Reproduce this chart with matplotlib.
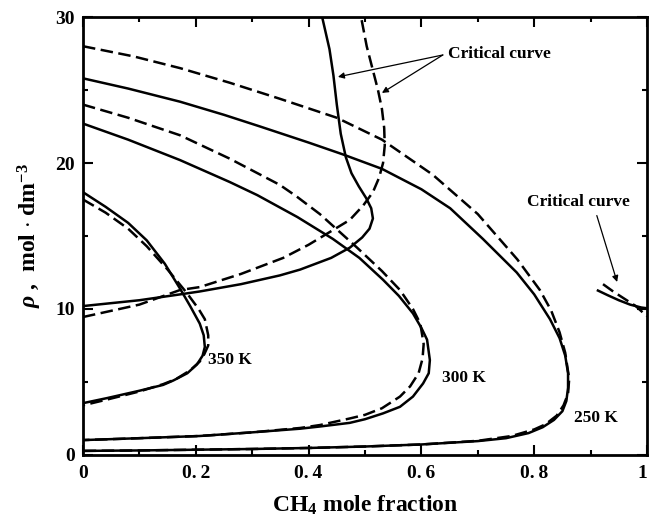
import matplotlib
matplotlib.use('Agg')
import matplotlib.pyplot as plt

plt.rcParams['font.family'] = ['Liberation Serif', 'DejaVu Serif']
plt.rcParams['font.weight'] = 'bold'
plt.rcParams['mathtext.fontset'] = 'custom'
plt.rcParams['mathtext.rm'] = 'Liberation Serif:bold'
plt.rcParams['mathtext.it'] = 'Liberation Serif:italic:bold'

# coexistence loops, ordered from the liquid branch (x=0) round the nose
# and back along the vapour branch; solid = model A, dashed = model B
T250_X = [0, 0.08, 0.172, 0.25, 0.314, 0.40, 0.46, 0.53, 0.60, 0.651, 0.709,
          0.769, 0.80, 0.828, 0.845, 0.855, 0.860, 0.860, 0.857, 0.85, 0.835,
          0.815, 0.79, 0.75, 0.70, 0.60, 0.50, 0.40, 0.30, 0.20, 0.10, 0]
T250_Y = [25.8, 25.1, 24.2, 23.3, 22.5, 21.4, 20.6, 19.6, 18.2, 16.9, 14.8,
          12.5, 11.0, 9.3, 8.0, 6.8, 5.6, 4.6, 3.7, 3.0, 2.4,
          1.9, 1.5, 1.15, 0.95, 0.72, 0.58, 0.48, 0.41, 0.36, 0.31, 0.28]
T250D_X = [0, 0.09, 0.172, 0.26, 0.349, 0.45, 0.53, 0.62, 0.70, 0.77, 0.81,
           0.83, 0.845, 0.855, 0.862, 0.860, 0.852, 0.84, 0.82, 0.80, 0.76,
           0.70, 0.60, 0.50, 0.40, 0.30, 0.20, 0.10, 0]
T250D_Y = [28.0, 27.3, 26.5, 25.5, 24.4, 23.1, 21.6, 19.2, 16.5, 13.4, 11.3,
           9.9, 8.4, 7.0, 5.2, 4.2, 3.4, 2.7, 2.1, 1.75, 1.3,
           0.97, 0.72, 0.58, 0.48, 0.41, 0.36, 0.31, 0.28]

T300_X = [0, 0.08, 0.172, 0.26, 0.309, 0.38, 0.443, 0.49, 0.532, 0.56, 0.585,
          0.60, 0.61, 0.615, 0.613, 0.603, 0.585, 0.562, 0.532, 0.50, 0.473,
          0.42, 0.385, 0.30, 0.207, 0.10, 0]
T300_Y = [22.7, 21.6, 20.2, 18.7, 17.8, 16.3, 14.8, 13.5, 12.0, 10.9, 9.7,
          8.7, 7.9, 6.5, 5.6, 4.9, 4.0, 3.3, 2.85, 2.45, 2.2,
          1.95, 1.8, 1.55, 1.3, 1.15, 1.02]
T300D_X = [0, 0.08, 0.172, 0.26, 0.349, 0.379, 0.42, 0.443, 0.486, 0.53,
           0.562, 0.585, 0.598, 0.604, 0.602, 0.595, 0.58, 0.562, 0.53, 0.50,
           0.473, 0.42, 0.385, 0.30, 0.207, 0.10, 0]
T300D_Y = [24.0, 23.1, 21.9, 20.3, 18.5, 17.7, 16.5, 15.7, 14.2, 12.6,
           11.3, 10.0, 9.0, 7.6, 6.6, 5.6, 4.7, 4.0, 3.2, 2.75,
           2.5, 2.05, 1.85, 1.55, 1.3, 1.15, 1.02]

T350_X = [0, 0.04, 0.08, 0.113, 0.145, 0.172, 0.19, 0.207, 0.214, 0.216,
          0.212, 0.202, 0.185, 0.16, 0.142, 0.10, 0.043, 0]
T350_Y = [18.0, 17.0, 15.9, 14.7, 13.1, 11.4, 10.2, 9.0, 8.2, 7.4,
          6.8, 6.2, 5.6, 5.1, 4.8, 4.4, 3.9, 3.55]
T350D_X = [0, 0.04, 0.08, 0.113, 0.15, 0.184, 0.205, 0.216, 0.222, 0.222,
           0.215, 0.207, 0.19, 0.165, 0.142, 0.10, 0.043, 0]
T350D_Y = [17.5, 16.6, 15.5, 14.3, 12.7, 11.1, 10.0, 9.3, 8.2, 7.5,
           6.9, 6.4, 5.8, 5.2, 4.85, 4.35, 3.8, 3.4]

# critical curves
CRIT_X = [0, 0.1, 0.172, 0.207, 0.28, 0.349, 0.385, 0.44, 0.473, 0.495,
          0.508, 0.514, 0.511, 0.502, 0.489, 0.476, 0.466, 0.457, 0.45,
          0.444, 0.437, 0.424]
CRIT_Y = [10.2, 10.6, 11.0, 11.2, 11.7, 12.3, 12.7, 13.5, 14.2, 14.9,
          15.5, 16.2, 16.9, 17.6, 18.4, 19.3, 20.4, 22.0, 24.0,
          26.0, 27.8, 30.0]
CRITD_X = [0, 0.1, 0.172, 0.207, 0.28, 0.355, 0.40, 0.443, 0.473, 0.497,
           0.514, 0.525, 0.532, 0.535, 0.534, 0.530, 0.523, 0.513, 0.503,
           0.493]
CRITD_Y = [9.45, 10.3, 11.3, 11.5, 12.4, 13.5, 14.4, 15.4, 16.1, 17.1,
           18.0, 19.0, 20.0, 21.2, 22.4, 23.7, 25.0, 26.5, 28.0,
           30.0]
CRIT2_X = [0.911, 0.93, 0.95, 0.97, 0.99, 1.0]
CRIT2_Y = [11.3, 10.95, 10.6, 10.3, 10.1, 10.05]
CRIT2D_X = [0.922, 0.94, 0.96, 0.98, 1.0]
CRIT2D_Y = [11.7, 11.2, 10.7, 10.2, 9.5]

X_TICKS = [0, 0.2, 0.4, 0.6, 0.8, 1.0]
X_LABELS = ['0', '0.\u20092', '0.\u20094', '0.\u20096', '0.\u20098', '1']
Y_TICKS = [0, 10, 20, 30]

LW = 1.8
DASH = (5, 2.2)

fig = plt.figure(figsize=(6.5, 5.22), dpi=100)
ax = fig.add_axes([0.1277, 0.1284, 0.8677, 0.839])

solid = [(T250_X, T250_Y), (T300_X, T300_Y), (T350_X, T350_Y),
         (CRIT_X, CRIT_Y), (CRIT2_X, CRIT2_Y)]
dashed = [(T250D_X, T250D_Y), (T300D_X, T300D_Y), (T350D_X, T350D_Y),
          (CRITD_X, CRITD_Y), (CRIT2D_X, CRIT2D_Y)]
for xs, ys in solid:
    ax.plot(xs, ys, color='k', lw=LW, solid_capstyle='butt',
            solid_joinstyle='round')
for xs, ys in dashed:
    ax.plot(xs, ys, color='k', lw=LW, dashes=DASH)

# temperature labels
ax.text(0.222, 6.5, '350 K', fontsize=12.5, fontweight='bold', va='center')
ax.text(0.637, 5.3, '300 K', fontsize=12.5, fontweight='bold', va='center')
ax.text(0.871, 2.5, '250 K', fontsize=12.5, fontweight='bold', va='center')

# critical curve callouts
arrow = dict(arrowstyle='-|>', color='k', lw=0.9, mutation_scale=9,
             shrinkA=0, shrinkB=0)
ax.text(0.647, 27.5, 'Critical curve', fontsize=12.5, fontweight='bold',
        va='center', ha='left')
ax.annotate('', xy=(0.452, 25.9), xytext=(0.638, 27.4), arrowprops=arrow)
ax.annotate('', xy=(0.530, 24.8), xytext=(0.638, 27.4), arrowprops=arrow)
ax.text(0.878, 17.3, 'Critical curve', fontsize=12.5, fontweight='bold',
        va='center', ha='center')
ax.annotate('', xy=(0.947, 11.85), xytext=(0.911, 16.4), arrowprops=arrow)

ax.set_xlim(0, 1)
ax.set_ylim(0, 30)
ax.set_xticks(X_TICKS)
ax.set_xticklabels(X_LABELS)
ax.set_yticks(Y_TICKS)
ax.set_xticks([0.1, 0.3, 0.5, 0.7, 0.9], minor=True)
ax.set_yticks([5, 15, 25], minor=True)
ax.tick_params(which='both', direction='in', top=True, right=True,
               width=1.5, labelsize=14)
ax.tick_params(which='major', length=7)
ax.tick_params(which='minor', length=3.5)
ax.tick_params(axis='x', pad=7)
ax.tick_params(axis='y', pad=6)
for lab in ax.get_xticklabels() + ax.get_yticklabels():
    lab.set_fontweight('bold')
# keep the "1" at the right edge inside the figure
ax.get_xticklabels()[-1].set_horizontalalignment('right')
for sp in ax.spines.values():
    sp.set_linewidth(2)

ax.set_xlabel('CH$_4$ mole fraction', fontsize=17, fontweight='bold',
              labelpad=9)
ax.set_ylabel(r'$\rho$ ,  mol $\cdot$ dm$^{-3}$', fontsize=17,
              fontweight='bold', labelpad=8)

fig.savefig('out.png', dpi=100)
